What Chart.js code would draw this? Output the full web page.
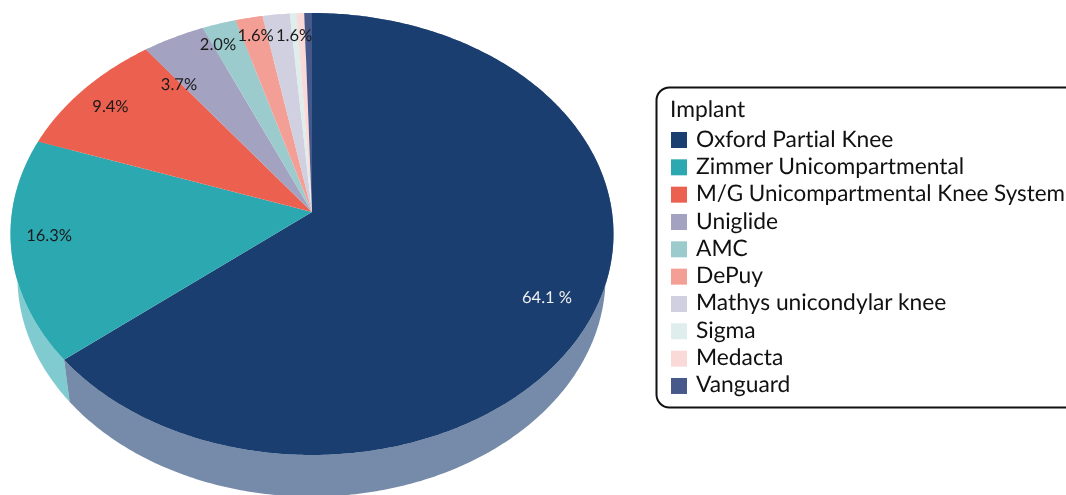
<!DOCTYPE html>
<html>
  <head>
    <script src="https://cdn.jsdelivr.net/npm/chart.js@4/dist/chart.umd.js"></script>
    <style>
      html, body { margin: 0; padding: 0; background: #fff; overflow: hidden; }
      canvas { display: block; }
    </style>
  </head>

  <body>
    <canvas id="canvas" width="1066" height="495"></canvas>
    <script>
      const legendTitle = 'Implant';
      const implants = ['Oxford Partial Knee', 'Zimmer Unicompartmental', 'M/G Unicompartmental Knee System', 'Uniglide', 'AMC', 'DePuy', 'Mathys unicondylar knee', 'Sigma', 'Medacta', 'Vanguard'];
      const shares = [64.1, 16.3, 9.4, 3.7, 2.0, 1.6, 1.6, 0.4, 0.45, 0.45];
      const shareLabels = ['64.1 %', '16.3%', '9.4%', '3.7%', '2.0%', '1.6%', '1.6%', '', '', ''];
      const colors = ['#1b3e70', '#2ca9b0', '#ec604f', '#a3a3c1', '#9ccbce', '#f49f96', '#d0d0e0', '#dfeded', '#f9dad8', '#47598b'];
      const labelColors = ['#f0f0f0', '#1a1a1a', '#1a1a1a', '#1a1a1a', '#1a1a1a', '#1a1a1a', '#1a1a1a', '#1a1a1a', '#1a1a1a', '#1a1a1a'];
      // label nudges from the default spot on the disc
      const labelNudges = [[-4, 3], [-8, -9], [-6, 0], [-14, 23], [-14, -5], [-2, -9], [13, -6], [0, 0], [0, 0], [0, 0]];

      // perspective pictures of the top face and of the bottom rim
      const topFace = { cx: 312, cy: 212, a: 300, b: 218.8, p: 0.0995 };
      const bottomRim = { cx: 311.5, cy: 255, a: 292.6, b: 217.6, p: 0.0995 };

      const project = (face, angle, r) => {
        const x = r * Math.cos(angle);
        const y = r * Math.sin(angle);
        const w = 1 - face.p * y;
        return [face.cx + (face.a * x) / w, face.cy + (face.b * y) / w];
      };

      const rimPoints = (face, start, end) => {
        const n = Math.max(2, Math.ceil((end - start) * 90));
        const pts = [];
        for (let i = 0; i <= n; i++) {
          pts.push(project(face, start + ((end - start) * i) / n, 1));
        }
        return pts;
      };

      const tracePath = (ctx, pts) => {
        ctx.beginPath();
        pts.forEach((p, i) => (i ? ctx.lineTo(p[0], p[1]) : ctx.moveTo(p[0], p[1])));
        ctx.closePath();
      };

      const pie3d = {
        id: 'pie3d',
        beforeDatasetDraw(chart, args) {
          const ctx = chart.ctx;
          const arcs = args.meta.data;
          ctx.save();
          // side wall first, the top face covers whatever is behind it
          arcs.forEach((arc, i) => {
            const top = rimPoints(topFace, arc.startAngle, arc.endAngle);
            const low = rimPoints(bottomRim, arc.startAngle, arc.endAngle).reverse();
            ctx.globalAlpha = 0.6;
            ctx.fillStyle = colors[i];
            tracePath(ctx, top.concat(low));
            ctx.fill();
          });
          ctx.globalAlpha = 1;
          arcs.forEach((arc, i) => {
            const pts = [[topFace.cx, topFace.cy]].concat(rimPoints(topFace, arc.startAngle, arc.endAngle));
            ctx.fillStyle = colors[i];
            tracePath(ctx, pts);
            ctx.fill();
          });
          ctx.textRendering = 'geometricPrecision';
          ctx.font = '16.5px Lato';
          ctx.textAlign = 'center';
          ctx.textBaseline = 'middle';
          arcs.forEach((arc, i) => {
            if (!shareLabels[i]) return;
            const p = project(topFace, (arc.startAngle + arc.endAngle) / 2, 0.85);
            ctx.fillStyle = labelColors[i];
            ctx.fillText(shareLabels[i], p[0] + labelNudges[i][0], p[1] + labelNudges[i][1]);
          });
          ctx.restore();
          return false;
        },
        afterDraw(chart) {
          const ctx = chart.ctx;
          ctx.save();
          ctx.strokeStyle = '#111';
          ctx.lineWidth = 2;
          ctx.beginPath();
          ctx.roundRect(656.5, 87.5, 450, 320, 13);
          ctx.stroke();
          ctx.textRendering = 'geometricPrecision';
          ctx.letterSpacing = '0.001px'; // no "ti" ligature
          ctx.font = '22.8px Lato';
          ctx.textAlign = 'left';
          ctx.textBaseline = 'middle';
          ctx.fillStyle = '#111';
          ctx.fillText(legendTitle, 670, 110);
          chart.data.labels.forEach((name, i) => {
            ctx.fillStyle = colors[i];
            ctx.fillRect(671, 132 + i * 27.33, 16, 16);
            ctx.fillStyle = '#111';
            ctx.fillText(name, 696, 139.7 + i * 27.22, 369);
          });
          ctx.restore();
        },
      };

      new Chart(document.getElementById('canvas').getContext('2d'), {
        type: 'pie',
        data: {
          labels: implants,
          datasets: [{ data: shares, backgroundColor: colors, borderWidth: 0 }],
        },
        options: {
          responsive: false,
          animation: false,
          plugins: {
            tooltip: { enabled: false },
            legend: { display: false },
          },
        },
        plugins: [pie3d],
      });
    </script>
  </body>
</html>
